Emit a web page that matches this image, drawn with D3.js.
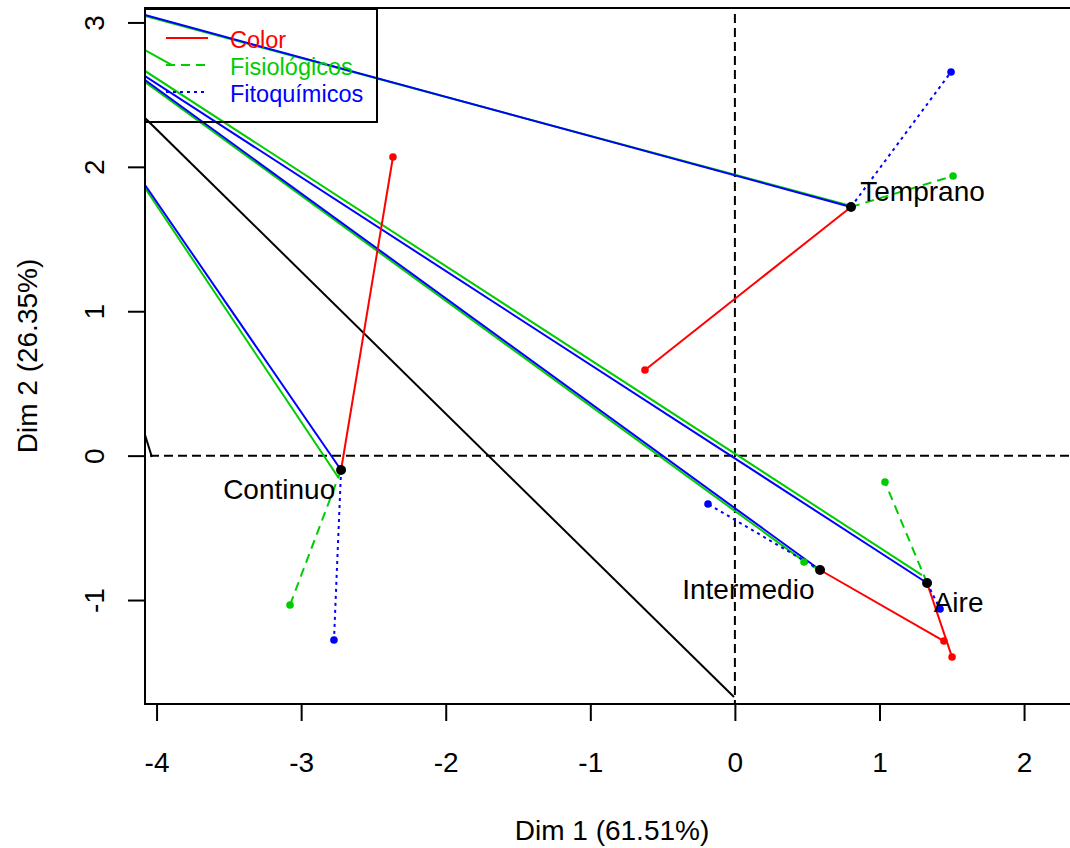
<!DOCTYPE html>
<html>
<head>
<meta charset="utf-8">
<script src="https://cdn.jsdelivr.net/npm/d3@7"></script>
<style>
  html, body { margin: 0; padding: 0; background: #fff; }
  text { font-family: "Liberation Sans", Arial, sans-serif; }
</style>
</head>
<body>
<svg id="chart" width="1070" height="848"></svg>
<script>
// ---------------- data ----------------
const individuals = ["Temprano", "Continuo", "Intermedio", "Aire"];
const indX = [0.803, -2.724, 0.589, 1.329];
const indY = [1.722, -0.0995, -0.792, -0.882];

const groups = ["Color", "Fisiológicos", "Fitoquímicos"];
const groupColors = ["#FF0000", "#00CD00", "#0000FF"];
// partial points per group, ordered as individuals
const partialX = {
  "Color":        [-0.622, -2.365, 1.446, 1.502],
  "Fisiológicos": [ 1.509, -3.077, 0.478, 1.038],
  "Fitoquímicos": [ 1.495, -2.773, -0.186, 1.419]
};
const partialY = {
  "Color":        [ 0.593,  2.068, -1.284, -1.395],
  "Fisiológicos": [ 1.937, -1.034, -0.737, -0.183],
  "Fitoquímicos": [ 2.657, -1.277, -0.335, -1.062]
};

// label anchors (data units)
const labelX = [1.298, -3.152, 0.093, 1.547];
const labelY = [1.83, -0.236, -0.929, -1.019];

// stray segments that come in from outside the left edge
const strayGroup = ["Fisiológicos", "Fitoquímicos", "Fisiológicos", "Fisiológicos", "Fitoquímicos",
                    "Fisiológicos", "Fitoquímicos", "none", "none", "Fisiológicos", "Fitoquímicos"];
const strayX1 = [-4.08, -4.08, -4.08, -4.08, -4.08, -4.08, -4.08, -4.08, -4.08, -4.08, -4.08];
const strayY1 = [3.044, 3.051, 2.809, 2.664, 2.629, 2.587, 2.601, 2.338, 0.143, 1.853, 1.874];
const strayX2 = [0.817, 0.803, -3.893, 1.294, 1.329, 0.482, 0.589, -0.006, -4.032, -2.745, -2.724];
const strayY2 = [1.726, 1.722, 2.705, -0.827, -0.882, -0.734, -0.792, -1.672, -0.009, -0.148, -0.0995];

const xTicks = [-4, -3, -2, -1, 0, 1, 2];
const yTicks = [-1, 0, 1, 2, 3];
const xTitle = "Dim 1 (61.51%)";
const yTitle = "Dim 2 (26.35%)";

// ---------------- layout ----------------
const svg = d3.select("#chart");
const L = 145, R = 1079, T = 8, B = 704;
const x = d3.scaleLinear().domain([-4.08, 2.38]).range([L, R]);
const y = d3.scaleLinear().domain([-1.72, 3.10]).range([B, T]);
const colorOf = g => g === "none" ? "#000" : groupColors[groups.indexOf(g)];
const dashOf = g => g === "Fisiológicos" ? "9,6" : (g === "Fitoquímicos" ? "3,4" : null);
const fmt = d => String(d);

svg.append("rect").attr("width", 1070).attr("height", 848).attr("fill", "#fff");

svg.append("defs").append("clipPath").attr("id", "clip")
  .append("rect").attr("x", L).attr("y", T).attr("width", R - L).attr("height", B - T);

const plot = svg.append("g").attr("clip-path", "url(#clip)");

// reference lines at 0
plot.append("line").attr("x1", x(-4.08)).attr("x2", x(2.38)).attr("y1", y(0)).attr("y2", y(0))
  .attr("stroke", "#000").attr("stroke-width", 2).attr("stroke-dasharray", "9,5").attr("stroke-dashoffset", -5);
plot.append("line").attr("x1", x(0)).attr("x2", x(0)).attr("y1", y(3.10)).attr("y2", y(-1.72))
  .attr("stroke", "#000").attr("stroke-width", 2).attr("stroke-dasharray", "9,5").attr("stroke-dashoffset", -6);

// stray segments
strayGroup.forEach((g, i) => {
  plot.append("line")
    .attr("x1", x(strayX1[i])).attr("y1", y(strayY1[i]))
    .attr("x2", x(strayX2[i])).attr("y2", y(strayY2[i]))
    .attr("stroke", colorOf(g)).attr("stroke-width", 2);
});

// partial segments
groups.forEach((g, gi) => {
  individuals.forEach((ind, i) => {
    plot.append("line")
      .attr("x1", x(indX[i])).attr("y1", y(indY[i]))
      .attr("x2", x(partialX[g][i])).attr("y2", y(partialY[g][i]))
      .attr("stroke", groupColors[gi]).attr("stroke-width", 2)
      .attr("stroke-dasharray", dashOf(g));
  });
});
// partial points
groups.forEach((g, gi) => {
  individuals.forEach((ind, i) => {
    plot.append("circle")
      .attr("cx", x(partialX[g][i])).attr("cy", y(partialY[g][i])).attr("r", 3.8)
      .attr("fill", groupColors[gi]);
  });
});
// individuals
individuals.forEach((ind, i) => {
  plot.append("circle").attr("cx", x(indX[i])).attr("cy", y(indY[i])).attr("r", 5).attr("fill", "#000");
  plot.append("text").attr("x", x(labelX[i])).attr("y", y(labelY[i]))
    .attr("text-anchor", "middle").attr("dominant-baseline", "central")
    .attr("font-size", 28).attr("fill", "#000").text(ind);
});

// box
svg.append("rect").attr("x", L).attr("y", T).attr("width", R - L).attr("height", B - T)
  .attr("fill", "none").attr("stroke", "#000").attr("stroke-width", 2);

// axes
const xAxis = svg.append("g").attr("transform", `translate(0,${B})`)
  .call(d3.axisBottom(x).tickValues(xTicks).tickSize(17).tickPadding(28).tickFormat(fmt));
xAxis.select(".domain").remove();
xAxis.selectAll("line").attr("stroke-width", 2);
xAxis.selectAll("text").attr("font-size", 28).attr("font-family", "Liberation Sans, Arial, sans-serif")
  .attr("dy", null).attr("y", 58).attr("dominant-baseline", "central");

const yAxis = svg.append("g").attr("transform", `translate(${L},0)`)
  .call(d3.axisLeft(y).tickValues(yTicks).tickSize(17).tickFormat(fmt));
yAxis.select(".domain").remove();
yAxis.selectAll("line").attr("stroke-width", 2);
yAxis.selectAll("text").attr("font-size", 28).attr("font-family", "Liberation Sans, Arial, sans-serif")
  .attr("x", null).attr("dy", null)
  .attr("text-anchor", "middle").attr("dominant-baseline", "central")
  .attr("transform", "translate(-51,0) rotate(-90)");

svg.append("text").attr("x", (L + R) / 2).attr("y", 830)
  .attr("text-anchor", "middle").attr("dominant-baseline", "central")
  .attr("font-size", 28).text(xTitle);
svg.append("text").attr("transform", `translate(27,${(T + B) / 2}) rotate(-90)`)
  .attr("text-anchor", "middle").attr("dominant-baseline", "central")
  .attr("font-size", 28).text(yTitle);

// legend
const leg = svg.append("g");
leg.append("rect").attr("x", 145).attr("y", 9).attr("width", 232).attr("height", 113)
  .attr("fill", "none").attr("stroke", "#000").attr("stroke-width", 2);
groups.forEach((g, i) => {
  const ly = 38 + i * 27;
  leg.append("line").attr("x1", 166).attr("x2", 208).attr("y1", ly).attr("y2", ly)
    .attr("stroke", groupColors[i]).attr("stroke-width", 2).attr("stroke-dasharray", dashOf(g));
  leg.append("text").attr("x", 230).attr("y", ly + 2).attr("dominant-baseline", "central")
    .attr("font-size", 23.5).attr("fill", groupColors[i]).text(g);
});
</script>
</body>
</html>
